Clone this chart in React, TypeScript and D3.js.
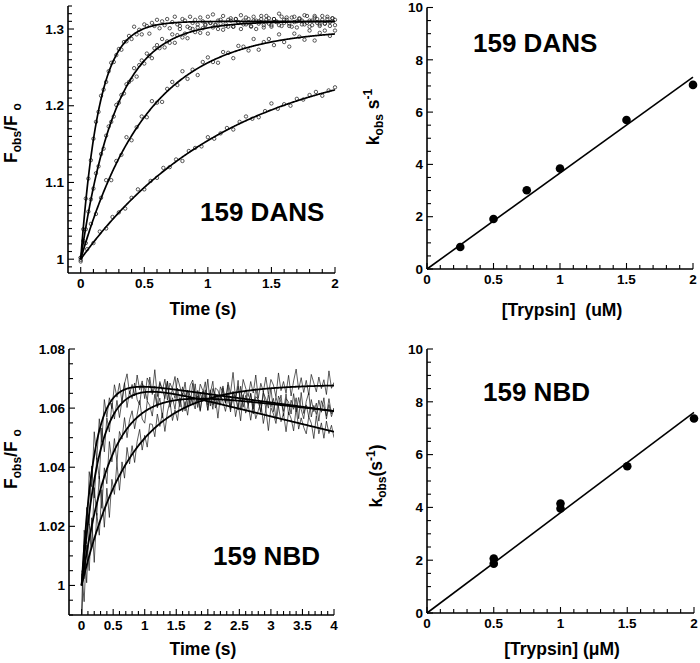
import React from "react";
import * as d3 from "d3";

const FONT = "'Liberation Sans', Arial, Helvetica, sans-serif";

// ---------------- 159 DANS stopped-flow traces (F_obs/F_o) ----------------
const dansTimeStep = [0.02, 0.02, 0.04, 0.05];
const dansTrace1 = [
  1.002, 1.039, 1.079, 1.105, 1.129, 1.157, 1.179, 1.192, 1.213, 1.221,
  1.231, 1.245, 1.256, 1.257, 1.266, 1.274, 1.273, 1.283, 1.284, 1.291,
  1.287, 1.303, 1.293, 1.299, 1.293, 1.306, 1.304, 1.294, 1.308, 1.304,
  1.312, 1.301, 1.31, 1.305, 1.313, 1.301, 1.309, 1.316, 1.306, 1.304,
  1.313, 1.311, 1.303, 1.316, 1.308, 1.312, 1.302, 1.315, 1.31, 1.306,
  1.316, 1.308, 1.319, 1.305, 1.311, 1.307, 1.317, 1.304, 1.312, 1.314,
  1.303, 1.313, 1.309, 1.318, 1.306, 1.315, 1.308, 1.304, 1.316, 1.311,
  1.307, 1.317, 1.302, 1.312, 1.314, 1.305, 1.313, 1.309, 1.32, 1.304,
  1.312, 1.315, 1.307, 1.303, 1.316, 1.31, 1.314, 1.306, 1.318, 1.308,
  1.311, 1.305, 1.317, 1.313, 1.304, 1.312, 1.307, 1.316, 1.309, 1.314,
  1.305,
];
const dansTrace2 = [
  0.999, 1.024, 1.039, 1.062, 1.078, 1.092, 1.112, 1.121, 1.137, 1.144,
  1.161, 1.173, 1.179, 1.186, 1.201, 1.204, 1.214, 1.216, 1.228, 1.231,
  1.234, 1.249, 1.238, 1.253, 1.259, 1.255, 1.268, 1.265, 1.262, 1.275,
  1.279, 1.275, 1.287, 1.276, 1.284, 1.282, 1.293, 1.282, 1.292, 1.3,
  1.289, 1.294, 1.288, 1.301, 1.3, 1.296, 1.306, 1.295, 1.301, 1.305,
  1.294, 1.308, 1.302, 1.306, 1.3, 1.312, 1.299, 1.307, 1.303, 1.311,
  1.303, 1.313, 1.308, 1.3, 1.311, 1.306, 1.313, 1.303, 1.311, 1.3,
  1.31, 1.313, 1.305, 1.317, 1.307, 1.303, 1.313, 1.31, 1.305, 1.316,
  1.308, 1.312, 1.304, 1.315, 1.309, 1.302, 1.313, 1.311, 1.306, 1.317,
  1.303, 1.311, 1.315, 1.308, 1.306, 1.317, 1.307, 1.313, 1.304, 1.314,
  1.312,
];
const dansTrace3 = [
  1.002, 1.021, 1.046, 1.059, 1.08, 1.103, 1.103, 1.128, 1.136, 1.159,
  1.155, 1.172, 1.186, 1.185, 1.206, 1.204, 1.205, 1.222, 1.231, 1.227,
  1.245, 1.235, 1.247, 1.24, 1.257, 1.263, 1.257, 1.256, 1.27, 1.269,
  1.262, 1.278, 1.277, 1.272, 1.287, 1.273, 1.283, 1.287, 1.279, 1.293,
  1.283, 1.277, 1.294, 1.29, 1.286, 1.298, 1.285, 1.295, 1.298, 1.291,
  1.298,
];
const dansTrace4 = [
  0.997, 1.013, 1.021, 1.036, 1.04, 1.055, 1.061, 1.066, 1.08, 1.091,
  1.091, 1.102, 1.106, 1.119, 1.12, 1.13, 1.128, 1.141, 1.145, 1.147,
  1.159, 1.157, 1.164, 1.171, 1.169, 1.179, 1.186, 1.183, 1.185, 1.193,
  1.203, 1.196, 1.202, 1.2, 1.209, 1.208, 1.214, 1.218, 1.213, 1.22,
  1.224,
];
// single-exponential fits: 1 + A(1 - exp(-k t))
const dansFitRate = [7, 3.6, 1.92, 0.85];
const dansFitAmp = [0.31, 0.31, 0.3, 0.27];

// ---------------- 159 NBD stopped-flow traces ----------------
const nbdTimeStep = 0.04;
const nbdTrace1 = [
  0.992, 1.0187, 1.0141, 1.0385, 1.0334, 1.052, 1.0426, 1.0564, 1.0484, 1.0629,
  1.0569, 1.0635, 1.0598, 1.0679, 1.0637, 1.0684, 1.0619, 1.0683, 1.0716, 1.0648,
  1.068, 1.0641, 1.0712, 1.0662, 1.0692, 1.0632, 1.0702, 1.0682, 1.0651, 1.073,
  1.0639, 1.069, 1.0659, 1.0698, 1.0627, 1.0685, 1.0664, 1.0633, 1.0702, 1.0671,
  1.064, 1.0688, 1.0607, 1.0676, 1.0695, 1.0644, 1.0623, 1.0681, 1.066, 1.0629,
  1.0698, 1.0607, 1.0666, 1.0645, 1.0613, 1.0672, 1.0651, 1.062, 1.0679, 1.0608,
  1.0656, 1.0625, 1.0694, 1.0593, 1.0642, 1.0661, 1.0609, 1.0648, 1.0597, 1.0666,
  1.0625, 1.0584, 1.0652, 1.0631, 1.06, 1.0669, 1.0588, 1.0637, 1.0606, 1.0644,
  1.0573, 1.0632, 1.0621, 1.058, 1.0649, 1.0587, 1.0636, 1.0595, 1.0564, 1.0623,
  1.0652, 1.057, 1.0609, 1.0578, 1.0627, 1.0586, 1.0635, 1.0563, 1.0612, 1.0571,
  1.06,
];
const nbdTrace2 = [
  1.005, 1.0023, 1.0264, 1.0204, 1.0404, 1.0296, 1.0432, 1.036, 1.0533, 1.0452,
  1.0567, 1.0519, 1.0617, 1.0563, 1.0626, 1.0568, 1.0627, 1.0686, 1.0602, 1.0657,
  1.0632, 1.0685, 1.0629, 1.0611, 1.0683, 1.0664, 1.0625, 1.0705, 1.0646, 1.0675,
  1.0605, 1.0684, 1.0663, 1.0632, 1.0691, 1.0619, 1.0668, 1.0707, 1.0635, 1.0604,
  1.0672, 1.064, 1.0659, 1.0607, 1.0684, 1.0613, 1.0641, 1.0589, 1.0657, 1.0645,
  1.0593, 1.0662, 1.061, 1.0638, 1.0566, 1.0644, 1.0622, 1.0589, 1.0637, 1.0595,
  1.0643, 1.0571, 1.0619, 1.0557, 1.0645, 1.0583, 1.0611, 1.0559, 1.0617, 1.0564,
  1.0592, 1.062, 1.0548, 1.0596, 1.0524, 1.0602, 1.058, 1.0548, 1.0606, 1.0554,
  1.0582, 1.052, 1.0587, 1.0565, 1.0523, 1.0601, 1.0529, 1.0567, 1.0535, 1.0513,
  1.0571, 1.0549, 1.0497, 1.0575, 1.0513, 1.055, 1.0498, 1.0556, 1.0514, 1.0542,
  1.05,
];
const nbdTrace3 = [
  0.985, 1.0137, 1.0009, 1.0207, 1.0131, 1.0331, 1.0237, 1.037, 1.0261, 1.0398,
  1.0344, 1.0487, 1.0418, 1.0497, 1.0415, 1.0521, 1.0495, 1.0568, 1.05, 1.0561,
  1.0591, 1.053, 1.0578, 1.0626, 1.0563, 1.0549, 1.0624, 1.0609, 1.0573, 1.0647,
  1.0601, 1.0634, 1.0567, 1.0649, 1.0691, 1.0603, 1.0635, 1.0596, 1.0668, 1.0619,
  1.065, 1.059, 1.0661, 1.0641, 1.0612, 1.0682, 1.0602, 1.0652, 1.0622, 1.0662,
  1.0592, 1.0651, 1.0691, 1.06, 1.064, 1.061, 1.0669, 1.0618, 1.0648, 1.0587,
  1.0656, 1.0635, 1.0594, 1.0674, 1.0603, 1.0643, 1.0612, 1.0651, 1.058, 1.0639,
  1.0629, 1.0588, 1.0657, 1.0596, 1.0645, 1.0604, 1.0633, 1.0562, 1.0641, 1.062,
  1.0589, 1.0648, 1.0577, 1.0627, 1.0596, 1.0635, 1.0564, 1.0653, 1.0582, 1.0611,
  1.057, 1.0629, 1.0588, 1.0617, 1.0556, 1.0625, 1.0604, 1.0573, 1.0632, 1.0581,
  1.06,
];
const nbdTrace4 = [
  1.004, 0.9945, 1.0138, 1.005, 1.0229, 1.0078, 1.0245, 1.017, 1.0324, 1.0197,
  1.0329, 1.023, 1.0359, 1.0308, 1.0415, 1.0322, 1.0418, 1.0363, 1.0467, 1.0411,
  1.0473, 1.0416, 1.0487, 1.0528, 1.0458, 1.0508, 1.0468, 1.0547, 1.0545, 1.0503,
  1.058, 1.0538, 1.0584, 1.0521, 1.0587, 1.0623, 1.0558, 1.0594, 1.0558, 1.0633,
  1.0588, 1.0622, 1.0576, 1.064, 1.0623, 1.0597, 1.066, 1.0593, 1.0646, 1.0689,
  1.0611, 1.0644, 1.0596, 1.0668, 1.0661, 1.0633, 1.0675, 1.0616, 1.0688, 1.065,
  1.0721, 1.0633, 1.0674, 1.0626, 1.0697, 1.0668, 1.0639, 1.069, 1.0651, 1.0712,
  1.0633, 1.0684, 1.0655, 1.0705, 1.0646, 1.0697, 1.0678, 1.0638, 1.0719, 1.0659,
  1.069, 1.065, 1.0711, 1.0641, 1.0692, 1.0732, 1.0663, 1.0703, 1.0653, 1.0694,
  1.0644, 1.0714, 1.0685, 1.0655, 1.0705, 1.0666, 1.0696, 1.0646, 1.0726, 1.0667,
  1.0687,
];
// fits: 1 + A(1 - exp(-k t)) - d t
const nbdFitAmp = [0.0706, 0.0728, 0.069, 0.068];
const nbdFitRate = [5, 3.5, 2.2, 1.32];
const nbdFitDrift = [0.0029, 0.0052, 0.0025, 0];

// ---------------- k_obs vs [Trypsin] ----------------
const dansConc = [0.25, 0.5, 0.75, 1, 1.5, 2];
const dansKobs = [0.84, 1.91, 3.01, 3.84, 5.7, 7.04];
const dansKobsSlope = 3.67;
const nbdConc = [0.5, 0.5, 1, 1, 1.5, 2];
const nbdKobs = [2.06, 1.87, 4.15, 3.96, 5.56, 7.37];
const nbdKobsSlope = 3.8;

// ---------------- tick labels ----------------
const dansTimeLabels = [0, 0.5, 1, 1.5, 2];
const dansFLabels = [1, 1.1, 1.2, 1.3];
const nbdTimeLabels = [0, 0.5, 1, 1.5, 2, 2.5, 3, 3.5, 4];
const nbdFLabels = [1, 1.02, 1.04, 1.06, 1.08];
const concLabels = [0, 0.5, 1, 1.5, 2];
const kobsLabels = [0, 2, 4, 6, 8, 10];

const fmt = (v: number) => String(+v.toFixed(3));
const near = (arr: number[], v: number) => arr.some((a) => Math.abs(a - v) < 1e-9);

type Scale = d3.ScaleLinear<number, number>;

function Axes({
  x, y, xMinor, xLabels, yMinor, yLabels,
}: {
  x: Scale; y: Scale; xMinor: number[]; xLabels: number[]; yMinor: number[]; yLabels: number[];
}) {
  const [xl, xr] = x.range();
  const [yb, yt] = y.range();
  return (
    <g fontFamily={FONT} fontWeight="bold" fontSize={13.5}>
      <line x1={xl} x2={xr} y1={yb} y2={yb} stroke="#000" strokeWidth={1.6} />
      <line x1={xl} x2={xl} y1={yb} y2={yt} stroke="#000" strokeWidth={1.6} />
      {xMinor.map((v, i) => (
        <line key={"xt" + i} x1={x(v)} x2={x(v)} y1={yb} y2={yb - (near(xLabels, v) ? 6 : 4)}
          stroke="#000" strokeWidth={1.1} />
      ))}
      {yMinor.map((v, i) => (
        <line key={"yt" + i} x1={xl} x2={xl + (near(yLabels, v) ? 6 : 4)} y1={y(v)} y2={y(v)}
          stroke="#000" strokeWidth={1.1} />
      ))}
      {xLabels.map((v, i) => (
        <text key={"xl" + i} x={x(v)} y={yb + 15} textAnchor="middle">{fmt(v)}</text>
      ))}
      {yLabels.map((v, i) => (
        <text key={"yl" + i} x={xl - 4} y={y(v)} dy="0.35em" textAnchor="end">{fmt(v)}</text>
      ))}
    </g>
  );
}

export default function App() {
  // ---- panel A: DANS traces ----
  const xA = d3.scaleLinear().domain([-0.1, 2]).range([68, 335]);
  const yA = d3.scaleLinear().domain([0.982, 1.33]).range([273, 6]);
  const dansTraces = [dansTrace1, dansTrace2, dansTrace3, dansTrace4];
  const fineA = d3.range(0, 2.0001, 0.005);
  const fitLineA = d3.line<number>().x((t) => xA(t));

  // ---- panel B: DANS kobs ----
  const xB = d3.scaleLinear().domain([0, 2]).range([427, 693]);
  const yB = d3.scaleLinear().domain([0, 10]).range([269, 7.5]);

  // ---- panel C: NBD traces ----
  const xC = d3.scaleLinear().domain([-0.2, 4]).range([69, 334]);
  const yC = d3.scaleLinear().domain([0.99, 1.08]).range([615, 349]);
  const nbdTraces = [nbdTrace1, nbdTrace2, nbdTrace3, nbdTrace4];
  const fineC = d3.range(0, 4.0001, 0.01);

  // ---- panel D: NBD kobs ----
  const xD = d3.scaleLinear().domain([0, 2]).range([427, 694]);
  const yD = d3.scaleLinear().domain([0, 10]).range([613, 349]);

  const tenths = (a: number, b: number) => d3.range(a, b + 1).map((i) => i / 10);

  const title = { fontFamily: FONT, fontWeight: "bold" as const, fontSize: 17.5 };
  const big = { fontFamily: FONT, fontWeight: "bold" as const, fontSize: 26 };

  return (
    <svg width={700} height={663} viewBox="0 0 700 663"
      style={{ position: "absolute", left: 0, top: 0, background: "#fff" }}>
      <defs>
        <clipPath id="clipC">
          <rect x={69} y={349} width={265} height={266} />
        </clipPath>
      </defs>
      <rect width={700} height={663} fill="#fff" />

      {/* ================= Panel A ================= */}
      <Axes x={xA} y={yA} xMinor={tenths(0, 20)} xLabels={dansTimeLabels}
        yMinor={d3.range(99, 134).map((i) => i / 100)} yLabels={dansFLabels} />
      {dansTraces.map((tr, s) => (
        <g key={"dp" + s}>
          {tr.map((v, i) => (
            <circle key={i} cx={xA(i * dansTimeStep[s])} cy={yA(v)} r={1.7}
              fill="none" stroke="#222" strokeWidth={0.75} />
          ))}
        </g>
      ))}
      {dansFitRate.map((k, s) => (
        <path key={"df" + s} fill="none" stroke="#000" strokeWidth={1.7}
          d={fitLineA.y((t) => yA(1 + dansFitAmp[s] * (1 - Math.exp(-k * t))))(fineA) || ""} />
      ))}
      <text x={200} y={221} {...big}>159 DANS</text>
      <text x={203} y={315} textAnchor="middle" {...title}>Time (s)</text>
      <text transform="translate(17,133) rotate(-90)" textAnchor="middle" {...title}>
        F<tspan fontSize={12} dy={4}>obs</tspan>
        <tspan dy={-4}>/F</tspan>
        <tspan fontSize={12} dy={4} dx={5}>o</tspan>
      </text>

      {/* ================= Panel B ================= */}
      <Axes x={xB} y={yB} xMinor={tenths(0, 20)} xLabels={concLabels}
        yMinor={d3.range(0, 21).map((i) => i / 2)} yLabels={kobsLabels} />
      <line x1={xB(0)} y1={yB(0)} x2={xB(2)} y2={yB(2 * dansKobsSlope)} stroke="#000" strokeWidth={1.6} />
      {dansConc.map((c, i) => (
        <circle key={"bk" + i} cx={xB(c)} cy={yB(dansKobs[i])} r={4.3} fill="#000" />
      ))}
      <text x={473} y={52} {...big}>159 DANS</text>
      <text x={562} y={316} textAnchor="middle" {...title} style={{ whiteSpace: "pre" }}>
        {"[Trypsin]\u00a0\u00a0(uM)"}
      </text>
      <text transform="translate(379,117) rotate(-90)" textAnchor="middle" {...title}>
        k<tspan fontSize={12} dy={4}>obs</tspan>
        <tspan dy={-4}>{"\u00a0s"}</tspan>
        <tspan fontSize={12} dy={-7}>-1</tspan>
      </text>

      {/* ================= Panel C ================= */}
      <Axes x={xC} y={yC} xMinor={tenths(0, 40)} xLabels={nbdTimeLabels}
        yMinor={d3.range(198, 217).map((i) => i / 200)} yLabels={nbdFLabels} />
      <g clipPath="url(#clipC)">
        {nbdTraces.map((tr, s) => (
          <path key={"nt" + s} fill="none" stroke="#111" strokeWidth={0.75} strokeOpacity={0.9}
            d={d3.line<number>().x((_, i) => xC(i * nbdTimeStep)).y((v) => yC(v))(tr) || ""} />
        ))}
        {nbdFitRate.map((k, s) => (
          <path key={"nf" + s} fill="none" stroke="#000" strokeWidth={1.8}
            d={d3.line<number>().x((t) => xC(t)).y((t) =>
              yC(1 + nbdFitAmp[s] * (1 - Math.exp(-k * t)) - nbdFitDrift[s] * t))(fineC) || ""} />
        ))}
      </g>
      <text x={213} y={565} {...big}>159 NBD</text>
      <text x={203} y={655} textAnchor="middle" {...title}>Time (s)</text>
      <text transform="translate(17,459) rotate(-90)" textAnchor="middle" {...title}>
        F<tspan fontSize={12} dy={4}>obs</tspan>
        <tspan dy={-4}>/F</tspan>
        <tspan fontSize={12} dy={4} dx={5}>o</tspan>
      </text>

      {/* ================= Panel D ================= */}
      <Axes x={xD} y={yD} xMinor={tenths(0, 20)} xLabels={concLabels}
        yMinor={d3.range(0, 21).map((i) => i / 2)} yLabels={kobsLabels} />
      <line x1={xD(0)} y1={yD(0)} x2={xD(2)} y2={yD(2 * nbdKobsSlope)} stroke="#000" strokeWidth={1.6} />
      {nbdConc.map((c, i) => (
        <circle key={"dk" + i} cx={xD(c)} cy={yD(nbdKobs[i])} r={4.3} fill="#000" />
      ))}
      <text x={483} y={401} {...big}>159 NBD</text>
      <text x={562} y={655} textAnchor="middle" {...title}>[Trypsin] (μM)</text>
      <text transform="translate(382,476) rotate(-90)" textAnchor="middle" {...title}>
        k<tspan fontSize={12} dy={4}>obs</tspan>
        <tspan dy={-4}>(s</tspan>
        <tspan fontSize={12} dy={-7}>-1</tspan>
        <tspan dy={7}>)</tspan>
      </text>
    </svg>
  );
}
